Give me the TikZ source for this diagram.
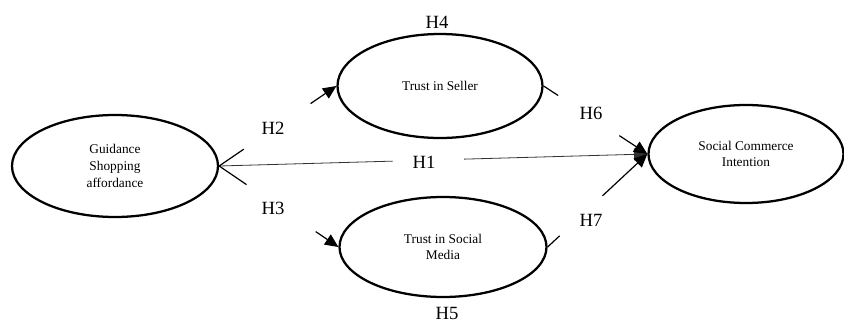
\documentclass[tikz,border=0pt]{standalone}
\usepackage{fontspec}
\setmainfont{Liberation Serif}
\usetikzlibrary{shapes.geometric, arrows.meta, calc}

\begin{document}
\begin{tikzpicture}[x=0.75pt, y=-0.75pt,
    construct/.style = {draw, ellipse, line width=1.7pt, inner sep=0pt, align=center,
                        font=\fontsize{10}{12.5}\selectfont},
    hyp/.style = {font=\fontsize{14}{16}\selectfont},
    link/.style = {line width=0.9pt},
    > = {Triangle[length=10pt, width=9pt]}]
    \useasboundingbox (0,0) rectangle (844,325);

    % constructs
    \node[construct, minimum width=154.5pt, minimum height=76.5pt] (gsa) at (115,166) {Guidance\\Shopping\\affordance};
    \node[construct, minimum width=153.75pt, minimum height=78pt] (tsell) at (440,86) {Trust in Seller};
    \node[construct, minimum width=155.25pt, minimum height=75pt] (tsm) at (443,247) {Trust in Social\\Media};
    \node[construct, minimum width=146.25pt, minimum height=73.5pt] (sci) at (746,154) {Social Commerce\\Intention};

    % hypothesis labels
    \node[hyp] (h1) at (424,162) {H1};
    \node[hyp] (h2) at (273,128) {H2};
    \node[hyp] (h3) at (273,208) {H3};
    \node[hyp] (h4) at (437,22) {H4};
    \node[hyp] (h5) at (447,313) {H5};
    \node[hyp] (h6) at (591,113) {H6};
    \node[hyp] (h7) at (591,220) {H7};

    % broken ends of the paths
    \coordinate (h1a) at ($(gsa.east)!0.405!(sci.west)$);
    \coordinate (h1b) at ($(gsa.east)!0.572!(sci.west)$);
    \coordinate (h2a) at ($(gsa.east)!0.21!(tsell.west)$);
    \coordinate (h2b) at ($(gsa.east)!0.78!(tsell.west)$);
    \coordinate (h3a) at ($(gsa.east)!0.23!(tsm.west)$);
    \coordinate (h3b) at ($(gsa.east)!0.81!(tsm.west)$);
    \coordinate (h6a) at ($(tsell.east)!0.14!(sci.west)$);
    \coordinate (h6b) at ($(tsell.east)!0.73!(sci.west)$);
    \coordinate (h7a) at ($(tsm.east)!0.12!(sci.west)$);
    \coordinate (h7b) at ($(tsm.east)!0.55!(sci.west)$);

    \draw[line width=0.6pt, black!80] (gsa.east) -- (h1a);
    \draw[line width=0.6pt, black!80, ->] (h1b) -- (sci.west);
    \draw[link] (gsa.east) -- (h2a);
    \draw[link, ->] (h2b) -- (tsell.west);
    \draw[link] (gsa.east) -- (h3a);
    \draw[link, ->] (h3b) -- (tsm.west);
    \draw[link] (tsell.east) -- (h6a);
    \draw[link, ->] (h6b) -- (sci.west);
    \draw[link] (tsm.east) -- (h7a);
    \draw[link, ->] (h7b) -- (sci.west);
\end{tikzpicture}
\end{document}
